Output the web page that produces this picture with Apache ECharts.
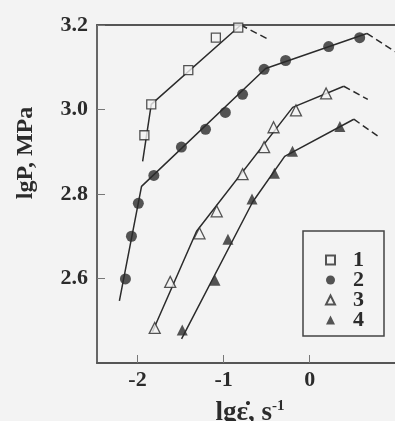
<!DOCTYPE html>
<html>
<head>
<meta charset="utf-8">
<script src="https://cdn.jsdelivr.net/npm/echarts@6/dist/echarts.min.js"></script>
<style>
html, body { margin: 0; padding: 0; background: #f3f3f3; }
#chart { width: 395px; height: 421px; }
</style>
</head>
<body>
<div id="chart"></div>
<script>
var chartDom = document.getElementById('chart');
var myChart = echarts.init(chartDom);
var option;

var font = '"Liberation Serif", "Times New Roman", serif';
var ink = '#2b2b2b';
var paper = '#f3f3f3';

// measured points, [lg strain rate, lgP]
var pts1 = [[-1.92, 2.939], [-1.84, 3.012], [-1.41, 3.093], [-1.09, 3.170], [-0.83, 3.194]];
var pts2 = [[-2.14, 2.599], [-2.07, 2.700], [-1.99, 2.778], [-1.81, 2.844], [-1.49, 2.911], [-1.21, 2.953],
            [-0.98, 2.993], [-0.78, 3.036], [-0.53, 3.095], [-0.28, 3.116], [0.22, 3.149], [0.58, 3.170]];
var pts3 = [[-1.80, 2.483], [-1.62, 2.592], [-1.28, 2.707], [-1.08, 2.759], [-0.78, 2.847], [-0.53, 2.911],
            [-0.42, 2.958], [-0.16, 2.998], [0.19, 3.038]];
var pts4 = [[-1.48, 2.478], [-1.10, 2.596], [-0.95, 2.693], [-0.67, 2.788], [-0.41, 2.849], [-0.20, 2.901], [0.35, 2.960]];

// drawn curves through the points (solid part) and the dashed ends
var fit1 = [[-1.94, 2.877], [-1.84, 3.012], [-0.80, 3.200]];
var tail1 = [[-0.80, 3.200], [-0.48, 3.166]];
var fit2 = [[-2.21, 2.547], [-1.953, 2.818], [-0.512, 3.097], [0.663, 3.180]];
var tail2 = [[0.663, 3.180], [0.99, 3.137]];
var fit3 = [[-1.826, 2.474], [-1.314, 2.712], [-0.198, 3.005], [0.395, 3.055]];
var tail3 = [[0.395, 3.055], [0.674, 3.024]];
var fit4 = [[-1.488, 2.457], [-0.663, 2.781], [-0.291, 2.889], [0.512, 2.977]];
var tail4 = [[0.512, 2.977], [0.791, 2.937]];

var xTicks = [-2, -1, 0];
var yTicks = [2.6, 2.8, 3.0, 3.2];

function curve(data, dashed) {
  return {
    type: 'line',
    data: data,
    symbol: 'none',
    silent: true,
    z: 2,
    lineStyle: { color: ink, width: 1.5, type: dashed ? [7, 4] : 'solid' }
  };
}

function marks(name, data, symbol, size, filled) {
  return {
    name: name,
    type: 'scatter',
    data: data,
    symbol: symbol,
    symbolSize: size,
    z: 3,
    itemStyle: {
      color: filled ? ink : paper,
      borderColor: ink,
      borderWidth: filled ? 0 : 1.3
    }
  };
}

option = {
  backgroundColor: paper,
  animation: false,
  grid: { left: 97, right: 0, top: 25, bottom: 58, outerBoundsMode: 'none' },
  legend: {
    data: ['1', '2', '3', '4'],
    orient: 'vertical',
    left: 303,
    top: 231,
    padding: [18, 20, 5, 22],
    itemGap: -2,
    itemWidth: 9,
    itemHeight: 9,
    borderColor: '#444',
    borderWidth: 1.5,
    textStyle: {
      fontFamily: font, fontWeight: 'bold', fontSize: 22, lineHeight: 20, color: ink,
      padding: [0, 0, 0, 13]
    }
  },
  xAxis: [
    {
      type: 'value',
      min: -2.47,
      max: 0.99,
      position: 'bottom',
      splitLine: { show: false },
      axisLine: { onZero: false, lineStyle: { color: '#555', width: 2 } },
      axisTick: { inside: true, length: 8, customValues: xTicks, lineStyle: { color: '#777' } },
      axisLabel: {
        customValues: xTicks,
        margin: 6,
        color: ink,
        fontFamily: font,
        fontWeight: 'bold',
        fontSize: 22
      },
      name: '{a|lgε\u0307, s}{b|-1}',
      nameLocation: 'middle',
      nameGap: 36,
      nameTextStyle: {
        padding: [0, 0, 0, 8],
        rich: {
          a: { fontFamily: font, fontWeight: 'bold', fontSize: 27, color: ink },
          b: { fontFamily: font, fontWeight: 'bold', fontSize: 15, color: ink, padding: [0, 0, 13, 0] }
        }
      }
    },
    {
      type: 'value',
      min: -2.47,
      max: 0.99,
      position: 'top',
      splitLine: { show: false },
      axisLine: { onZero: false, lineStyle: { color: '#555', width: 2 } },
      axisTick: { show: false },
      axisLabel: { show: false }
    }
  ],
  yAxis: {
    type: 'value',
    min: 2.4,
    max: 3.2,
    position: 'left',
    splitLine: { show: false },
    axisLine: { show: true, onZero: false, lineStyle: { color: '#666', width: 2 } },
    axisTick: { show: true, inside: true, length: 8, customValues: yTicks, lineStyle: { color: '#777' } },
    axisLabel: {
      customValues: yTicks,
      margin: 9,
      color: ink,
      fontFamily: font,
      fontWeight: 'bold',
      fontSize: 22,
      formatter: function (v) { return v.toFixed(1); }
    }
  },
  graphic: [
    {
      type: 'text',
      x: 26,
      y: 153,
      rotation: Math.PI / 2,
      style: {
        text: 'lgP, MPa',
        fill: ink,
        font: 'bold 24px ' + font,
        align: 'center',
        verticalAlign: 'middle'
      }
    }
  ],
  series: [
    curve(fit1, false), curve(tail1, true),
    curve(fit2, false), curve(tail2, true),
    curve(fit3, false), curve(tail3, true),
    curve(fit4, false), curve(tail4, true),
    marks('1', pts1, 'rect', 9, false),
    marks('2', pts2, 'circle', 11, true),
    marks('3', pts3, 'triangle', 11, false),
    marks('4', pts4, 'triangle', 11, true)
  ]
};

if (option && typeof option === 'object') {
  myChart.setOption(option);
}

window.addEventListener('resize', myChart.resize);
</script>
</body>
</html>
